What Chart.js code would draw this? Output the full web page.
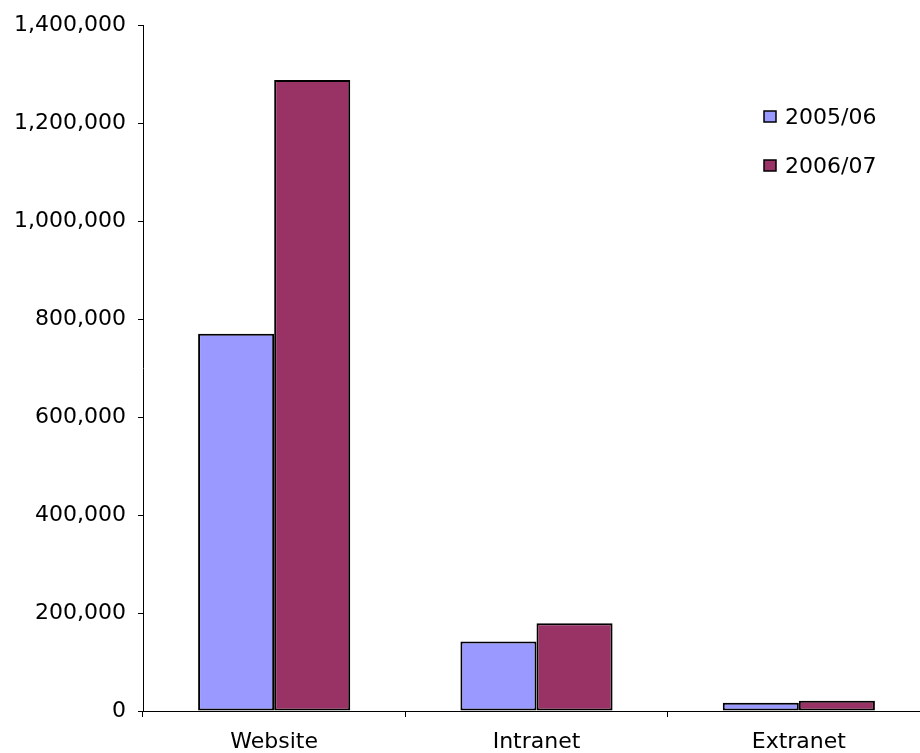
<!DOCTYPE html>
<html>
<head>
<meta charset="utf-8">
<script src="https://cdn.jsdelivr.net/npm/chart.js@4/dist/chart.umd.min.js"></script>
<style>
    html, body { margin: 0; padding: 0; background: #fff; overflow: hidden; }
    #wrap { width: 930px; height: 753px; }
</style>
</head>
<body>
<div id="wrap"><canvas id="chart" width="930" height="753"></canvas></div>
<script>
const categorias = ['Website', 'Intranet', 'Extranet'];
const serie0506 = [770000, 142000, 17000];
const serie0607 = [1288000, 179000, 21000];
const nombresSeries = ['2005/06', '2006/07'];
const coloresSeries = ['#9999FF', '#993366'];
const yTicks = [0, 200000, 400000, 600000, 800000, 1000000, 1200000, 1400000];

const fuente = 'Verdana, "DejaVu Sans", sans-serif';

// leyenda dibujada a mano, arriba a la derecha
const leyenda = {
    id: 'leyenda',
    afterDraw(chart) {
        const ctx = chart.ctx;
        ctx.save();
        ctx.font = '22px ' + fuente;
        ctx.textBaseline = 'middle';
        chart.data.datasets.forEach((ds, i) => {
            const y = 117 + i * 49;
            ctx.fillStyle = ds.backgroundColor;
            ctx.fillRect(764, y - 6, 12, 11);
            ctx.strokeStyle = '#000';
            ctx.lineWidth = 1.5;
            ctx.strokeRect(764, y - 6, 12, 11);
            ctx.fillStyle = '#000';
            ctx.fillText(ds.label, 785, y + 1);
        });
        ctx.restore();
    }
};

new Chart(document.getElementById('chart'), {
    type: 'bar',
    data: {
        labels: categorias,
        datasets: [{
            label: nombresSeries[0],
            data: serie0506,
            backgroundColor: coloresSeries[0],
            borderColor: '#000',
            borderWidth: 2,
            borderSkipped: false
        }, {
            label: nombresSeries[1],
            data: serie0607,
            backgroundColor: coloresSeries[1],
            borderColor: '#000',
            borderWidth: 2,
            borderSkipped: false
        }]
    },
    options: {
        responsive: false,
        animation: false,
        events: [],
        layout: { padding: { top: 23, left: 0, right: 0, bottom: 0 } },
        datasets: { bar: { categoryPercentage: 0.58, barPercentage: 1 } },
        plugins: { legend: { display: false }, tooltip: { enabled: false } },
        scales: {
            x: {
                grid: { display: true, drawOnChartArea: false, offset: true, color: '#000', tickLength: 6 },
                border: { display: true, color: '#000', width: 1 },
                ticks: { color: '#000', font: { family: fuente, size: 22 }, padding: 12 },
                afterFit(scale) { scale.height = 42; }
            },
            y: {
                min: 0,
                max: 1400000,
                afterBuildTicks(scale) { scale.ticks = yTicks.map(v => ({ value: v })); },
                grid: { display: true, drawOnChartArea: false, color: '#000', tickLength: 5 },
                border: { display: true, color: '#000', width: 1 },
                ticks: {
                    color: '#000',
                    font: { family: fuente, size: 22 },
                    padding: 12,
                    callback: v => v.toLocaleString('en-US')
                },
                afterFit(scale) { scale.width = 143; }
            }
        }
    },
    plugins: [leyenda]
});
</script>
</body>
</html>
